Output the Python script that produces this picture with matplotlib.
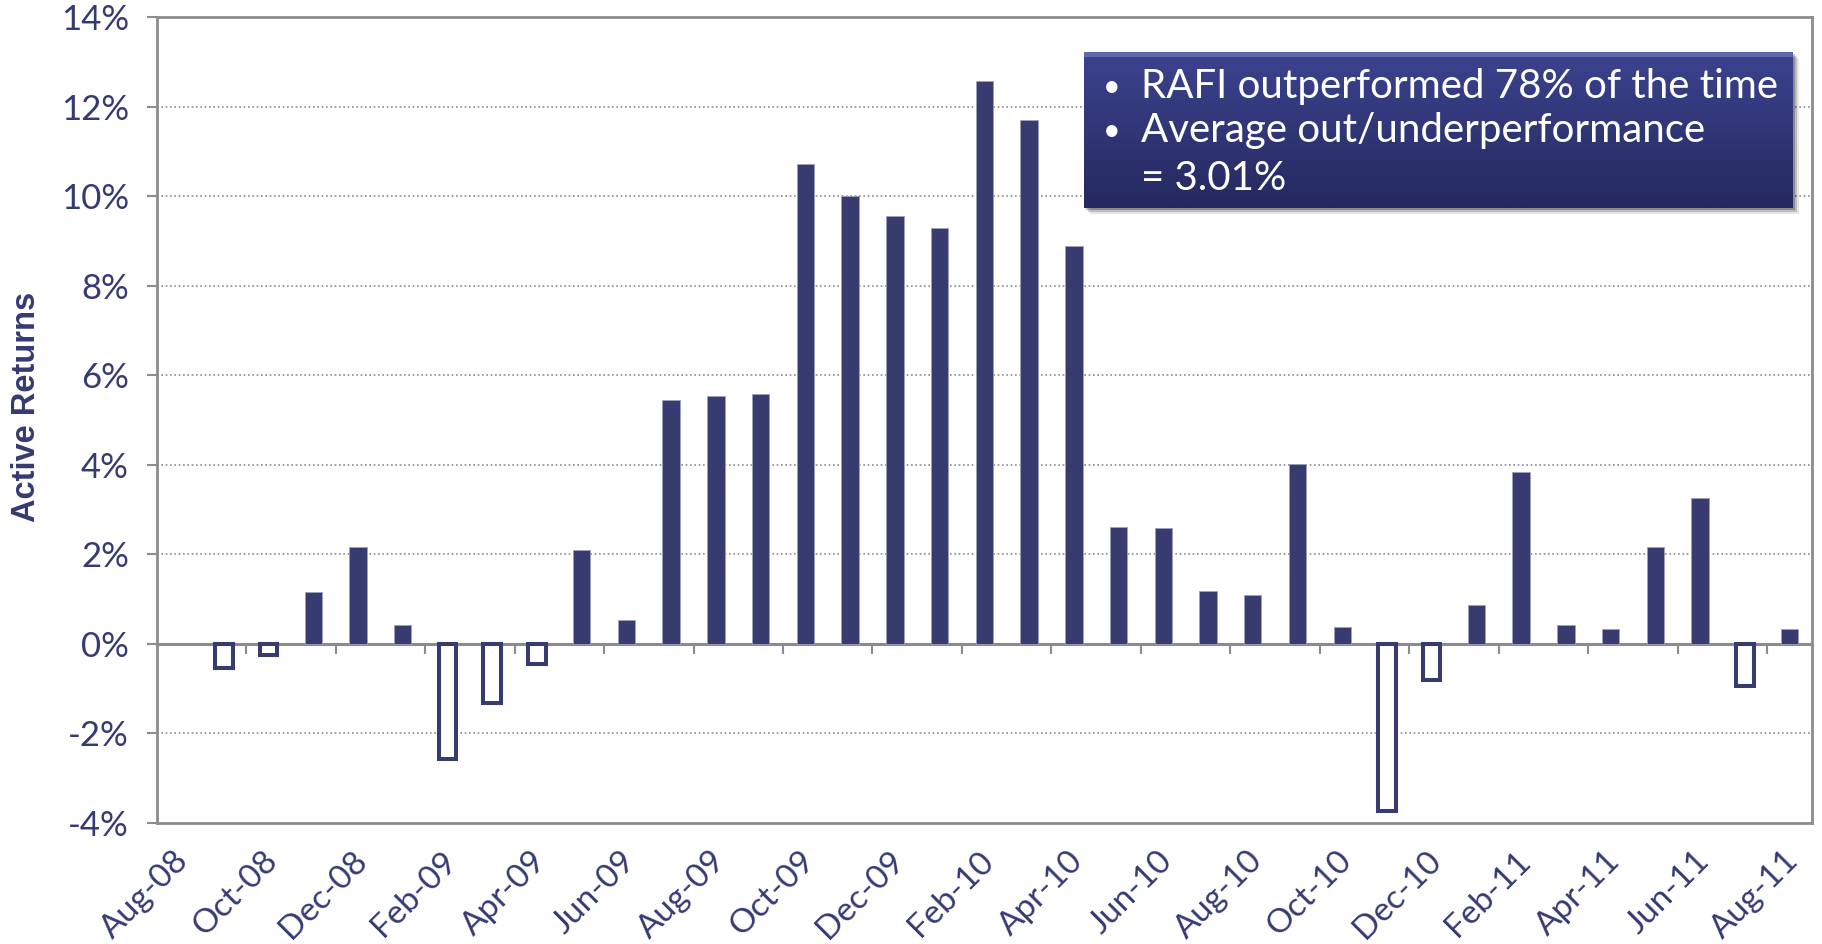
import numpy as np
import matplotlib.pyplot as plt
from matplotlib.patches import Rectangle
from matplotlib.transforms import ScaledTranslation

# monthly slots on the axis, Aug-08 .. Aug-11
months = ['Aug-08', 'Sep-08', 'Oct-08', 'Nov-08', 'Dec-08', 'Jan-09', 'Feb-09',
          'Mar-09', 'Apr-09', 'May-09', 'Jun-09', 'Jul-09', 'Aug-09', 'Sep-09',
          'Oct-09', 'Nov-09', 'Dec-09', 'Jan-10', 'Feb-10', 'Mar-10', 'Apr-10',
          'May-10', 'Jun-10', 'Jul-10', 'Aug-10', 'Sep-10', 'Oct-10', 'Nov-10',
          'Dec-10', 'Jan-11', 'Feb-11', 'Mar-11', 'Apr-11', 'May-11', 'Jun-11',
          'Jul-11', 'Aug-11']

# active returns (%), Sep-08 .. Aug-11 (no bar for Aug-08)
active = [-0.55, -0.26, 1.15, 2.17, 0.42, -2.57, -1.32, -0.46, 2.10, 0.54,
          5.45, 5.53, 5.59, 10.72, 10.02, 9.57, 9.29, 12.59, 11.71, 8.90,
          2.62, 2.59, 1.19, 1.10, 4.01, 0.37, -3.73, -0.80, 0.86, 3.83,
          0.43, 0.32, 2.17, 3.26, -0.95, 0.33]

yticks = [-4, -2, 0, 2, 4, 6, 8, 10, 12, 14]
notes = ['RAFI outperformed 78% of the time',
         'Average out/underperformance',
         '= 3.01%']

navy = '#383B70'
txt = '#363A72'
gray = '#8C8C8C'
font = 'Lato'

fig = plt.figure(figsize=(18.22, 9.44), dpi=100)
ax = fig.add_axes([0.0860, 0.1285, 0.9085, 0.853])

x = np.arange(1, len(months)) + 0.5
vals = np.array(active)
neg = vals < 0
face = np.where(neg, 'white', navy)
edge = np.where(neg, navy, '#9FA1BC')
lws = np.where(neg, 2.9, 0.6)
ax.bar(x, vals, width=0.39, color=face, edgecolor=edge, linewidth=lws, zorder=3)

ax.set_xlim(0, len(months))
ax.set_ylim(yticks[0], yticks[-1])

# frame
for s in ax.spines.values():
    s.set_color(gray)
    s.set_linewidth(2)

ax.set_axisbelow(True)
ax.yaxis.grid(True, linestyle=(0, (1, 1.6)), color='#8A8A9A', linewidth=1.2)

ax.set_yticks(yticks)
ax.set_yticklabels([f'{v}%' for v in yticks], family=font)
ax.tick_params(axis='y', direction='out', length=7, width=1.5, color=gray,
               pad=13, labelsize=25, labelcolor=txt)

ticks = np.arange(0, len(months), 2)
ax.set_xticks(ticks)
ax.set_xticklabels(months[::2], rotation=45, ha='right', va='center',
                   rotation_mode='anchor', family=font)
ax.tick_params(axis='x', length=0, pad=24, labelsize=24, labelcolor=txt)
off = ScaledTranslation(0.27, 0, fig.dpi_scale_trans)
for lab in ax.get_xticklabels():
    lab.set_transform(lab.get_transform() + off)

# zero line with category ticks
y0 = (0 - yticks[0]) / (yticks[-1] - yticks[0])
sec = ax.secondary_xaxis(y0)
sec.set_xticks(ticks[1:])
sec.tick_params(direction='out', length=7, width=1.5, color=gray, labelbottom=False)
sec.spines['bottom'].set_color(gray)
sec.spines['bottom'].set_linewidth(2.2)

fig.text(27 / 1822, 1 - 407 / 944, 'Active Returns', rotation=90, ha='center',
         va='center', fontsize=23.5, fontweight='bold', color=txt,
         family='Liberation Sans')

# callout box
bl, bb, bw, bh = 1084 / 1822, 1 - 208 / 944, 709 / 1822, 156 / 944
for k, a in [(6, 0.10), (4, 0.18), (2, 0.25)]:
    fig.patches.append(Rectangle((bl + k / 1822, bb - k / 944), bw, bh,
                                 transform=fig.transFigure, facecolor='black',
                                 alpha=a, edgecolor='none', zorder=4))
bax = fig.add_axes([bl, bb, bw, bh])
bax.set_zorder(5)
top_c = np.array([0x3C, 0x43, 0x8E]) / 255
bot_c = np.array([0x25, 0x29, 0x5F]) / 255
t = np.linspace(0, 1, 156)[:, None]
grad = top_c * (1 - t) + bot_c * t
grad[:5] = grad[:5] * 0.5 + np.array([0x8A, 0x90, 0xC8]) / 255 * 0.5
img = np.repeat(grad[:, None, :], 2, axis=1)
bax.imshow(img, aspect='auto', extent=[0, 1, 0, 1], interpolation='bilinear')
bax.set_xlim(0, 1)
bax.set_ylim(0, 1)
bax.axis('off')
for yy, s, bullet in zip([0.776, 0.494, 0.192], notes, [True, True, False]):
    if bullet:
        bax.text(0.027, yy, '\u2022', color='white', fontsize=22, va='center',
                 ha='left', family=font)
    bax.text(0.080, yy, s, color='white', fontsize=29, va='center', ha='left',
             family=font)

fig.savefig('out.png', dpi=100)
